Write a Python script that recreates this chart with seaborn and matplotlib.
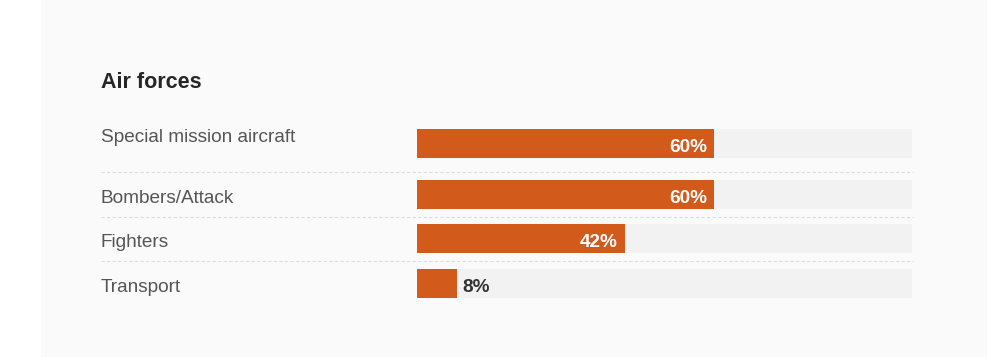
import matplotlib
matplotlib.use("Agg")
import matplotlib.pyplot as plt
from matplotlib.patches import Rectangle
from matplotlib.lines import Line2D
import pandas as pd
import seaborn as sns

# data
title = "Air forces"
categories = ["Special mission aircraft", "Bombers/Attack", "Fighters", "Transport"]
shares = [60, 60, 42, 8]
value_labels = ["60%", "60%", "42%", "8%"]

# layout (pixels from top of image)
W, H = 1000, 357
row_y = [143.5, 194.5, 238.5, 283.5]
label_base = [141.7, 202.7, 246.7, 291.7]
sep_y = [172, 217, 261]

sns.set_theme(style="white")
plt.rcParams["font.family"] = ["Liberation Sans", "DejaVu Sans"]

fig = plt.figure(figsize=(W / 100, H / 100), dpi=100, facecolor="white")
fig.patches.append(Rectangle((41 / W, 0), (987 - 41) / W, 1, transform=fig.transFigure,
                             facecolor="#fafafa", edgecolor="none", zorder=-5))

ax = fig.add_axes([417 / W, 0, 495 / W, 1])
ax.set_facecolor("none")

df = pd.DataFrame({"category": categories, "share": shares,
                   "track": [100] * len(shares), "pos": row_y})

bw = 29 / 44
sns.barplot(data=df, x="track", y="pos", orient="y", native_scale=True,
            color="#f2f2f2", saturation=1, width=bw, errorbar=None, linewidth=0, ax=ax)
sns.barplot(data=df, x="share", y="pos", orient="y", native_scale=True,
            color="#d25a1a", saturation=1, width=bw, errorbar=None, linewidth=0, ax=ax)

ax.set_xlim(0, 100)
ax.set_ylim(H, 0)
ax.set_xlabel("")
ax.set_ylabel("")
ax.set_xticks([])
ax.set_yticks([])
sns.despine(ax=ax, left=True, bottom=True)

# value labels
for v, lab, y in zip(shares, value_labels, row_y):
    if v >= 20:
        ax.annotate(lab, xy=(v, y + 8.5), xytext=(-7, 0), textcoords="offset pixels",
                    ha="right", va="baseline", color="white", fontsize=13.7, fontweight="bold")
    else:
        ax.annotate(lab, xy=(v, y + 8.5), xytext=(6, 0), textcoords="offset pixels",
                    ha="left", va="baseline", color="#333333", fontsize=13.7, fontweight="bold")

# category labels
for cat, yb in zip(categories, label_base):
    fig.text(101 / W, 1 - yb / H, cat, ha="left", va="baseline",
             color="#555555", fontsize=13.7)

# dashed separators
for ys in sep_y:
    fig.lines.append(Line2D([101 / W, 913 / W], [1 - ys / H] * 2, transform=fig.transFigure,
                            color="#dcdcdc", linewidth=0.8, linestyle=(0, (3, 2))))

fig.text(101 / W, 1 - 88.3 / H, title, ha="left", va="baseline",
         color="#262626", fontsize=15.5, fontweight="bold")

fig.savefig("out.png", dpi=100, facecolor=fig.get_facecolor())
